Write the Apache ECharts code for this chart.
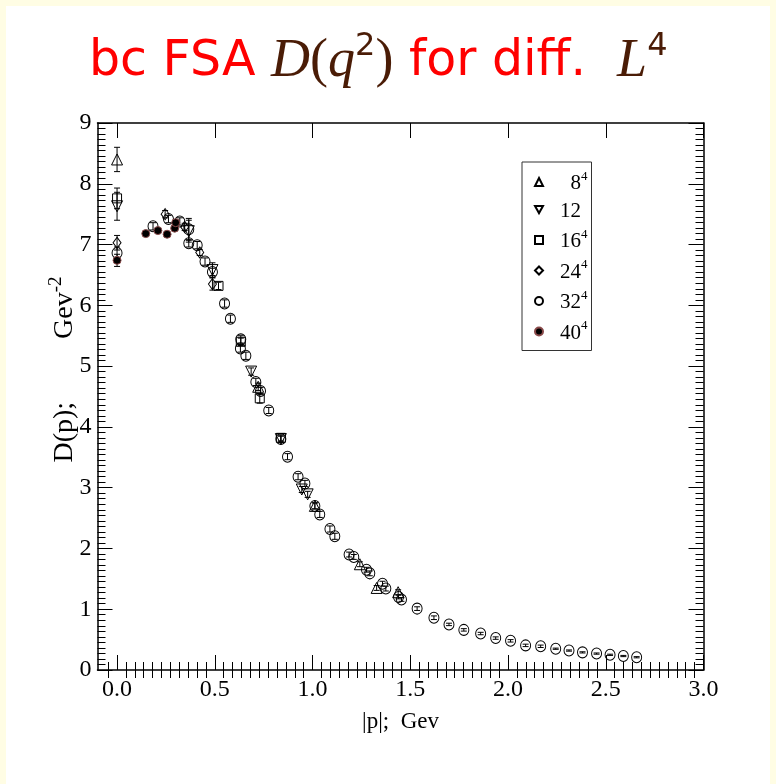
<!DOCTYPE html>
<html>
<head>
<meta charset="utf-8">
<script src="https://cdn.jsdelivr.net/npm/echarts@6/dist/echarts.min.js"></script>
<style>
  html, body { margin: 0; padding: 0; background: #fffde4; }
  #main { width: 776px; height: 784px; }
</style>
</head>
<body>
<div id="main"></div>
<script>
// data: momentum |p| (Gev), D(p) and its error, one set per lattice size
var p8 = [0, 0.722, 1.012, 1.242, 1.328, 1.438]
var d8 = [8.40, 4.66, 2.70, 1.74, 1.35, 1.28]
var e8 = [0.20, 0.06, 0.05, 0.04, 0.04, 0.04]

var p12 = [0, 0.367, 0.488, 0.686, 0.838, 0.945, 0.975]
var d12 = [7.63, 7.22, 6.58, 4.91, 3.80, 2.97, 2.89]
var e12 = [0.23, 0.18, 0.12, 0.06, 0.05, 0.05, 0.05]

var p16 = [0, 0.519, 0.633, 0.730, 0.838]
var d16 = [7.76, 6.32, 5.40, 4.47, 3.82]
var e16 = [0.17, 0.06, 0.06, 0.08, 0.05]

var p24 = [0, 0.246, 0.346, 0.423, 0.488]
var d24 = [7.03, 7.50, 7.29, 6.87, 6.35]
var e24 = [0.12, 0.06, 0.06, 0.05, 0.10]

var p32 = [0, 0.184, 0.263, 0.321, 0.367, 0.367, 0.410, 0.450, 0.488, 0.550, 0.580, 0.633, 0.631, 0.659,
  0.710, 0.734, 0.776, 0.838, 0.872, 0.926, 0.961, 1.012, 1.037, 1.089, 1.114, 1.187, 1.211, 1.276, 1.293,
  1.358, 1.375, 1.440, 1.455, 1.535, 1.621, 1.698, 1.774, 1.860, 1.937, 2.013, 2.090, 2.167, 2.244, 2.312,
  2.381, 2.453, 2.522, 2.590, 2.658]
var d32 = [6.86, 7.30, 7.42, 7.38, 7.25, 7.02, 6.99, 6.72, 6.55, 6.03, 5.78, 5.44, 5.29, 5.17,
  4.74, 4.59, 4.27, 3.80, 3.51, 3.18, 3.07, 2.70, 2.56, 2.32, 2.20, 1.90, 1.86, 1.65, 1.59,
  1.42, 1.34, 1.20, 1.16, 1.01, 0.86, 0.75, 0.66, 0.60, 0.525, 0.48, 0.405, 0.39, 0.35, 0.32,
  0.29, 0.27, 0.25, 0.23, 0.21]
var e32 = [0.10, 0.06, 0.06, 0.06, 0.18, 0.06, 0.06, 0.06, 0.06, 0.06, 0.06, 0.06, 0.06, 0.06,
  0.06, 0.06, 0.05, 0.05, 0.05, 0.05, 0.05, 0.05, 0.05, 0.05, 0.05, 0.04, 0.04, 0.04, 0.04,
  0.04, 0.04, 0.03, 0.03, 0.03, 0.03, 0.02, 0.02, 0.02, 0.02, 0.02, 0.02, 0.02, 0.01, 0.01,
  0.01, 0.01, 0.01, 0.01, 0.01]

var p40 = [0, 0.147, 0.209, 0.256, 0.295, 0.300]
var d40 = [6.74, 7.18, 7.23, 7.17, 7.27, 7.36]
var e40 = [0.10, 0.03, 0.03, 0.03, 0.04, 0.04]

// tick values
var xMajor = [0, 0.5, 1.0, 1.5, 2.0, 2.5, 3.0]
var xMinor = [-0.5 / 11]
for (var i = 0; i < xMajor.length - 1; i++) {
  for (var k = 1; k < 11; k++) xMinor.push(xMajor[i] + k * 0.5 / 11)
}

var serif = 'Liberation Serif'
var brown = '#4a1c06'

var legendText = {
  L8: '{n|  8}{s|4}',
  L12: '{n|12}',
  L16: '{n|16}{s|4}',
  L24: '{n|24}{s|4}',
  L32: '{n|32}{s|4}',
  L40: '{n|40}{s|4}'
}

function pts (xs, ys) {
  return xs.map(function (x, i) { return [x, ys[i]] })
}

// vertical error bars with small caps
function errBars (name, xs, ys, es) {
  return {
    type: 'custom',
    name: name,
    silent: true,
    z: 3,
    data: xs.map(function (x, i) { return [x, ys[i] - es[i], ys[i] + es[i]] }),
    encode: { x: 0, y: [1, 2] },
    renderItem: function (params, api) {
      var lo = api.coord([api.value(0), api.value(1)])
      var hi = api.coord([api.value(0), api.value(2)])
      var st = { stroke: '#000', lineWidth: 1 }
      return {
        type: 'group',
        children: [
          { type: 'line', shape: { x1: lo[0], y1: lo[1], x2: hi[0], y2: hi[1] }, style: st },
          { type: 'line', shape: { x1: lo[0] - 3, y1: lo[1], x2: lo[0] + 3, y2: lo[1] }, style: st },
          { type: 'line', shape: { x1: hi[0] - 3, y1: hi[1], x2: hi[0] + 3, y2: hi[1] }, style: st }
        ]
      }
    }
  }
}

function marks (name, xs, ys, symbol, size, fill, border) {
  return {
    type: 'scatter',
    name: name,
    data: pts(xs, ys),
    symbol: symbol,
    symbolSize: size,
    z: 4,
    itemStyle: { color: fill, borderColor: border, borderWidth: 1, opacity: 1 },
    emphasis: { disabled: true }
  }
}

var hollow = 'rgba(255,255,255,0)'
var downTri = 'path://M0,0L10,0L5,9Z'

var axisLine = { show: true, onZero: false, lineStyle: { color: '#000', width: 1.5 } }

var myChart = echarts.init(document.getElementById('main'))
var option = {
  backgroundColor: '#fffde4',
  animation: false,
  graphic: [{
    type: 'rect', z: -10, silent: true,
    shape: { x: 6, y: 6, width: 764, height: 778 },
    style: { fill: '#fff' }
  }],
  title: {
    left: 84,
    top: 26,
    text: '{r|bc FSA }{i|D}{u|(}{i|q}{s|2}{u|)}{r| for diff.  }{i|L}{s|4}',
    textStyle: {
      fontWeight: 'normal',
      rich: {
        r: { color: '#ff0000', fontFamily: 'DejaVu Sans', fontWeight: 'normal', fontSize: 49, lineHeight: 62 },
        i: { color: brown, fontFamily: serif, fontStyle: 'italic', fontWeight: 'normal', fontSize: 54, lineHeight: 62 },
        u: { color: brown, fontFamily: serif, fontWeight: 'normal', fontSize: 54, lineHeight: 62 },
        s: { color: brown, fontFamily: 'DejaVu Sans', fontWeight: 'normal', fontSize: 32, lineHeight: 38, verticalAlign: 'top' }
      }
    }
  },
  legend: {
    orient: 'vertical',
    left: 522,
    top: 162,
    padding: [8, 4, 7, 12],
    itemGap: 6.5,
    itemWidth: 8,
    itemHeight: 8,
    borderColor: '#333',
    borderWidth: 1,
    backgroundColor: '#fff',
    selectedMode: false,
    data: ['L8', 'L12', 'L16', 'L24', 'L32', 'L40'],
    formatter: function (name) { return legendText[name] },
    textStyle: {
      padding: [0, 0, 0, 12],
      rich: {
        n: { fontFamily: serif, fontSize: 21, color: '#000', lineHeight: 24, verticalAlign: 'bottom' },
        s: { fontFamily: serif, fontSize: 13, color: '#000', lineHeight: 24, verticalAlign: 'top' }
      }
    }
  },
  grid: { left: 97.5, top: 123, width: 606, height: 547 },
  xAxis: [
    {
      type: 'value', position: 'bottom', min: -0.1, max: 3,
      axisLine: axisLine,
      axisTick: { inside: true, length: 15, customValues: xMajor, lineStyle: { color: '#000' } },
      axisLabel: {
        customValues: xMajor, margin: 8, color: '#000', fontFamily: serif, fontSize: 24,
        formatter: function (v) { return v.toFixed(1) }
      },
      splitLine: { show: false },
      name: '|p|;  Gev', nameLocation: 'middle', nameGap: 40,
      nameTextStyle: { color: '#000', fontFamily: serif, fontSize: 23 }
    },
    {
      type: 'value', position: 'bottom', min: -0.1, max: 3,
      axisLine: { show: false },
      axisTick: { inside: true, length: 8, customValues: xMinor, lineStyle: { color: '#000' } },
      axisLabel: { show: false },
      splitLine: { show: false }
    },
    {
      type: 'value', position: 'top', min: -0.1, max: 3,
      axisLine: axisLine,
      axisTick: { inside: true, length: 15, customValues: xMajor, lineStyle: { color: '#000' } },
      axisLabel: { show: false },
      splitLine: { show: false }
    },
    {
      type: 'value', position: 'top', min: -0.1, max: 3,
      axisLine: { show: false },
      axisTick: { inside: true, length: 8, customValues: xMinor, lineStyle: { color: '#000' } },
      axisLabel: { show: false },
      splitLine: { show: false }
    }
  ],
  yAxis: [
    {
      type: 'value', position: 'left', min: 0, max: 9, interval: 1,
      axisLine: axisLine,
      axisTick: { inside: true, length: 15, lineStyle: { color: '#000' } },
      minorTick: { show: true, splitNumber: 11, length: 8, lineStyle: { color: '#000' } },
      axisLabel: { margin: 6, color: '#000', fontFamily: serif, fontSize: 24 },
      splitLine: { show: false },
      name: '{a|D(p);         Gev}{s|-2}', nameLocation: 'middle', nameGap: 19,
      nameMoveOverlap: false,
      nameTextStyle: {
        padding: [0, 0, 0, 54],
        rich: {
          a: { fontFamily: serif, fontSize: 28, color: '#000', lineHeight: 32, verticalAlign: 'bottom' },
          s: { fontFamily: serif, fontSize: 19, color: '#000', lineHeight: 32, verticalAlign: 'top' }
        }
      }
    },
    {
      type: 'value', position: 'right', min: 0, max: 9, interval: 1,
      axisLine: axisLine,
      axisTick: { inside: true, length: 15, lineStyle: { color: '#000' } },
      minorTick: { show: true, splitNumber: 11, length: 8, lineStyle: { color: '#000' } },
      axisLabel: { show: false },
      splitLine: { show: false }
    }
  ],
  series: [
    errBars('e8', p8, d8, e8),
    errBars('e12', p12, d12, e12),
    errBars('e16', p16, d16, e16),
    errBars('e24', p24, d24, e24),
    errBars('e32', p32, d32, e32),
    errBars('e40', p40, d40, e40),
    marks('L8', p8, d8, 'triangle', 11, hollow, '#000'),
    marks('L12', p12, d12, downTri, 11, hollow, '#000'),
    marks('L16', p16, d16, 'rect', 9, hollow, '#000'),
    marks('L24', p24, d24, 'diamond', [8, 11], hollow, '#000'),
    marks('L32', p32, d32, 'circle', [10, 11], hollow, '#000'),
    marks('L40', p40, d40, 'circle', 8, '#000', '#8a4a4a')
  ]
}
myChart.setOption(option)
</script>
</body>
</html>
